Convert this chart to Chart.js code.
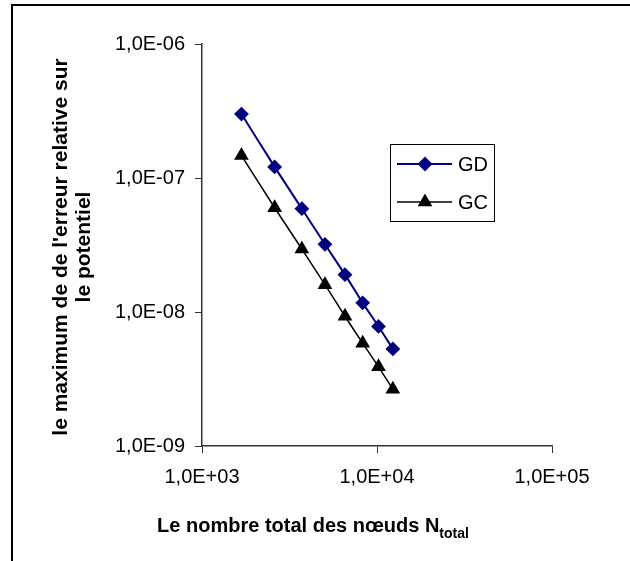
<!DOCTYPE html>
<html>
<head>
<meta charset="utf-8">
<title>Erreur relative sur le potentiel</title>
<script src="https://cdn.jsdelivr.net/npm/chart.js@4/dist/chart.umd.min.js"></script>
<style>
    html, body { margin: 0; padding: 0; background: #fff; }
    #wrap { position: relative; width: 630px; height: 561px; }
</style>
</head>
<body>
<div id="wrap"><canvas id="errChart" width="630" height="561"></canvas></div>
<script>
// nombre total des noeuds (maillages 41x41 ... 111x111)
const nodes = [1681, 2601, 3721, 5041, 6561, 8281, 10201, 12321];
// maximum de l'erreur relative
const errGD = [3.0e-7, 1.21e-7, 5.9e-8, 3.2e-8, 1.9e-8, 1.17e-8, 7.8e-9, 5.3e-9];
const errGC = [1.47e-7, 6.0e-8, 2.95e-8, 1.6e-8, 9.3e-9, 5.85e-9, 3.9e-9, 2.65e-9];
const seriesNames = ['GD', 'GC'];
const xTicks = [1e3, 1e4, 1e5];
const yTicks = [1e-9, 1e-8, 1e-7, 1e-6];

const axisColor = '#333';
const fontFamily = 'Liberation Sans, Arial, sans-serif';

// 1.0e-6 -> "1,0E-06"
function fmtExp(v) {
    const parts = v.toExponential(1).split('e');
    const n = parseInt(parts[1], 10);
    return parts[0].replace('.', ',') + 'E' + (n < 0 ? '-' : '+') + String(Math.abs(n)).padStart(2, '0');
}

function toPoints(xs, ys) {
    return xs.map((x, i) => ({ x: x, y: ys[i] }));
}

// frame, axis titles and the boxed legend
const decorPlugin = {
    id: 'decor',
    afterDraw(chart) {
        const ctx = chart.ctx;
        ctx.save();

        // outer frame (only left and top visible)
        ctx.strokeStyle = '#000';
        ctx.lineWidth = 2;
        ctx.beginPath();
        ctx.moveTo(12, 561);
        ctx.lineTo(12, 5);
        ctx.lineTo(630, 5);
        ctx.stroke();

        ctx.fillStyle = '#000';

        // y title, two lines rotated
        ctx.save();
        ctx.translate(73, 247);
        ctx.rotate(-Math.PI / 2);
        ctx.font = 'bold 21px ' + fontFamily;
        ctx.textAlign = 'center';
        ctx.textBaseline = 'middle';
        ctx.fillText("le maximum de de l'erreur relative sur", 0, -11.5);
        ctx.fillText('le potentiel', 0, 11.5);
        ctx.restore();

        // x title with subscript
        const main = 'Le nombre total des nœuds N';
        const sub = 'total';
        ctx.font = 'bold 20px ' + fontFamily;
        const wMain = ctx.measureText(main).width;
        ctx.font = 'bold 14px ' + fontFamily;
        const wSub = ctx.measureText(sub).width;
        let x0 = 313 - (wMain + wSub) / 2;
        ctx.textAlign = 'left';
        ctx.textBaseline = 'alphabetic';
        ctx.font = 'bold 20px ' + fontFamily;
        ctx.fillText(main, x0, 532);
        ctx.font = 'bold 14px ' + fontFamily;
        ctx.fillText(sub, x0 + wMain, 538);

        // legend box
        const box = { left: 390, top: 144, right: 494, bottom: 221 };
        ctx.fillStyle = '#fff';
        ctx.fillRect(box.left, box.top, box.right - box.left, box.bottom - box.top);
        ctx.strokeStyle = '#000';
        ctx.lineWidth = 1;
        ctx.strokeRect(box.left + 0.5, box.top + 0.5, box.right - box.left, box.bottom - box.top);

        const rows = [164, 202];
        chart.data.datasets.forEach((ds, i) => {
            const y = rows[i];
            ctx.strokeStyle = ds.borderColor;
            ctx.lineWidth = ds.borderWidth;
            ctx.beginPath();
            ctx.moveTo(397, y);
            ctx.lineTo(452, y);
            ctx.stroke();
            Chart.helpers.drawPoint(ctx, {
                pointStyle: ds.pointStyle,
                radius: ds.pointRadius,
                borderWidth: 1
            }, 425, y);
            ctx.fillStyle = ds.pointBackgroundColor;
            ctx.fill();
            ctx.fillStyle = '#000';
            ctx.font = '20px ' + fontFamily;
            ctx.textAlign = 'left';
            ctx.textBaseline = 'middle';
            ctx.fillText(ds.label, 458, y + 1);
        });

        ctx.restore();
    }
};

let errChart;

document.addEventListener('DOMContentLoaded', function() {
    const ctx = document.getElementById('errChart').getContext('2d');
    errChart = new Chart(ctx, {
        type: 'line',
        data: {
            datasets: [{
                label: seriesNames[0],
                data: toPoints(nodes, errGD),
                borderColor: '#000080',
                backgroundColor: '#000080',
                pointBackgroundColor: '#000080',
                pointBorderColor: '#000080',
                borderWidth: 2,
                pointStyle: 'rectRot',
                pointRadius: 6,
                tension: 0.3
            }, {
                label: seriesNames[1],
                data: toPoints(nodes, errGC),
                borderColor: '#000',
                backgroundColor: '#000',
                pointBackgroundColor: '#000',
                pointBorderColor: '#000',
                borderWidth: 1.5,
                pointStyle: 'triangle',
                pointRadius: 7,
                tension: 0.3
            }]
        },
        options: {
            responsive: false,
            animation: false,
            layout: { padding: { left: 0, right: 78, top: 44, bottom: 0 } },
            plugins: {
                legend: { display: false },
                tooltip: { enabled: false }
            },
            scales: {
                x: {
                    type: 'logarithmic',
                    min: 1e3,
                    max: 1e5,
                    afterBuildTicks: scale => { scale.ticks = xTicks.map(v => ({ value: v })); },
                    afterFit: scale => { scale.height = 115; },
                    grid: { drawOnChartArea: false, tickLength: 7, color: axisColor },
                    border: { color: axisColor, width: 1.5 },
                    ticks: {
                        color: '#000',
                        padding: 12,
                        maxRotation: 0,
                        font: { family: fontFamily, size: 20 },
                        callback: v => fmtExp(v)
                    }
                },
                y: {
                    type: 'logarithmic',
                    min: 1e-9,
                    max: 1e-6,
                    afterBuildTicks: scale => { scale.ticks = yTicks.map(v => ({ value: v })); },
                    afterFit: scale => { scale.width = 202; },
                    grid: { drawOnChartArea: false, tickLength: 7, color: axisColor },
                    border: { color: axisColor, width: 1.5 },
                    ticks: {
                        color: '#000',
                        padding: 10,
                        font: { family: fontFamily, size: 20 },
                        callback: v => fmtExp(v)
                    }
                }
            }
        },
        plugins: [decorPlugin]
    });
});
</script>
</body>
</html>
